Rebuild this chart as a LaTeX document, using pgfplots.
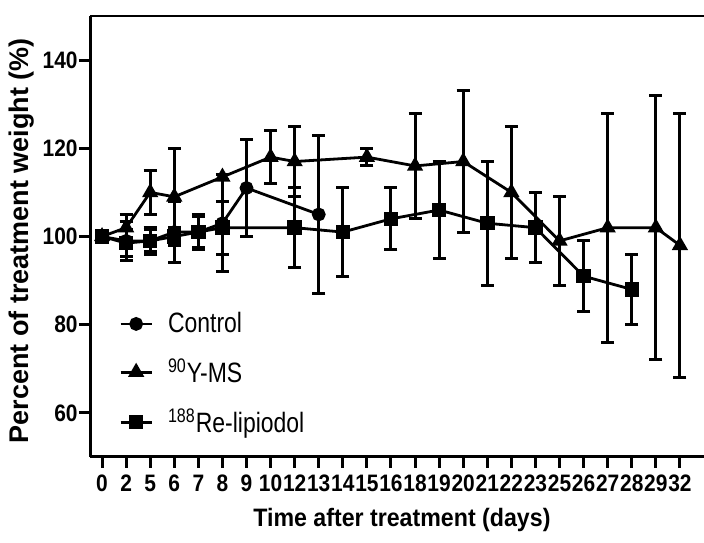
\documentclass[border=0pt]{standalone}
\usepackage{fontspec}
\setmainfont{Liberation Sans}
\newfontfamily\tickfam[FakeStretch=0.88]{Liberation Sans}
\newfontfamily\legfam[FakeStretch=0.82]{Liberation Sans}
\newfontfamily\labfam[FakeStretch=0.92]{Liberation Sans}
\usepackage{pgfplots}
\pgfplotsset{compat=1.18}

\begin{document}
\begin{tikzpicture}
\begin{axis}[
    name=ax,
    scale only axis,
    width=307pt, height=220.5pt,
    xmin=-0.5, xmax=25,
    ymin=50, ymax=150,
    axis x line*=bottom,
    axis y line*=left,
    axis line style={line width=1.5pt},
    tick align=outside,
    major tick length=5.5pt,
    tick style={line width=1.5pt, black},
    xtick={0,...,24},
    xticklabels={0,2,5,6,7,8,9,10,12,13,14,15,16,18,19,20,21,22,23,25,26,27,28,29,32},
    ytick={60,80,100,120,140},
    /pgf/number format/assume math mode=true,
    ticklabel style={font=\tickfam\bfseries\fontsize{11.9}{12}\selectfont},
    xticklabel style={inner xsep=0pt},
    yticklabel style={inner xsep=0.5pt},
    xlabel={Time after treatment (days)},
    ylabel={Percent of treatment weight (\%)},
    xlabel style={font=\labfam\bfseries\fontsize{12.6}{13}\selectfont,
        at={(axis description cs:0.508,0)}, anchor=center, yshift=-31.5pt},
    ylabel style={font=\bfseries\fontsize{13.5}{14}\selectfont,
        at={(axis description cs:-0.111,0.49)}, anchor=center},
    legend style={draw=none, fill=none, font=\legfam\fontsize{14}{15}\selectfont,
        at={(axis description cs:0.047,0.038)}, anchor=south west,
        row sep=7.5pt, inner sep=0pt},
    legend cell align=left,
    legend image code/.code={\draw[mark repeat=2, mark phase=2, #1]
        plot coordinates {(0pt,0pt) (7.75pt,0pt) (15.5pt,0pt)};
        \path (21pt,0pt);},
    every axis plot/.append style={black, line width=1.4pt,
        mark options={solid, fill=black}},
    error bars/y dir=both,
    error bars/y explicit,
    error bars/error bar style={line width=1.5pt},
    error bars/error mark options={rotate=90, mark size=3.25pt, line width=1.5pt},
]

% Control
\addplot[mark=*, mark size=2.75pt] coordinates {
    (0,100) +- (0,0)
    (1,99) +- (0,4.4)
    (2,99) +- (0,2.5)
    (3,101) +- (0,7)
    (4,101) +- (0,4)
    (5,103) +- (0,11)
    (6,111) +- (0,11)
    (9,105) +- (0,18)
};
\addlegendentry{Control}

% 90Y-MS
\addplot[mark=triangle*, mark size=3.3pt] coordinates {
    (0,100) +- (0,0)
    (1,102) +- (0,3)
    (2,110) +- (0,5)
    (3,109) +- (0,11)
    (5,113.5) +- (0,0.5)
    (7,118) +- (0,6)
    (8,117) +- (0,8)
    (11,118) +- (0,2)
    (13,116) +- (0,12)
    (15,117) +- (0,16)
    (17,110) +- (0,15)
    (19,99) +- (0,10)
    (21,102) +- (0,26)
    (23,102) +- (0,30)
    (24,98) +- (0,30)
};
\addlegendentry{\textsuperscript{90}Y-MS}

% 188Re-lipiodol
\addplot[mark=square*, mark size=2.9pt] coordinates {
    (0,100) +- (0,0)
    (1,98.5) +- (0,3)
    (2,99) +- (0,3)
    (3,100) +- (0,2)
    (4,101) +- (0,3.5)
    (5,102) +- (0,6)
    (8,102) +- (0,9)
    (10,101) +- (0,10)
    (12,104) +- (0,7)
    (14,106) +- (0,11)
    (16,103) +- (0,14)
    (18,102) +- (0,8)
    (20,91) +- (0,8)
    (22,88) +- (0,8)
};
\addlegendentry{\textsuperscript{188}Re-lipiodol}

\draw[line width=1.5pt] (rel axis cs:0,1) -- (rel axis cs:1,1);
\end{axis}
\pgfresetboundingbox
\path[use as bounding box] ([xshift=-45pt,yshift=-43pt]ax.south west) rectangle ([yshift=8pt]ax.north east);
\end{tikzpicture}
\end{document}
